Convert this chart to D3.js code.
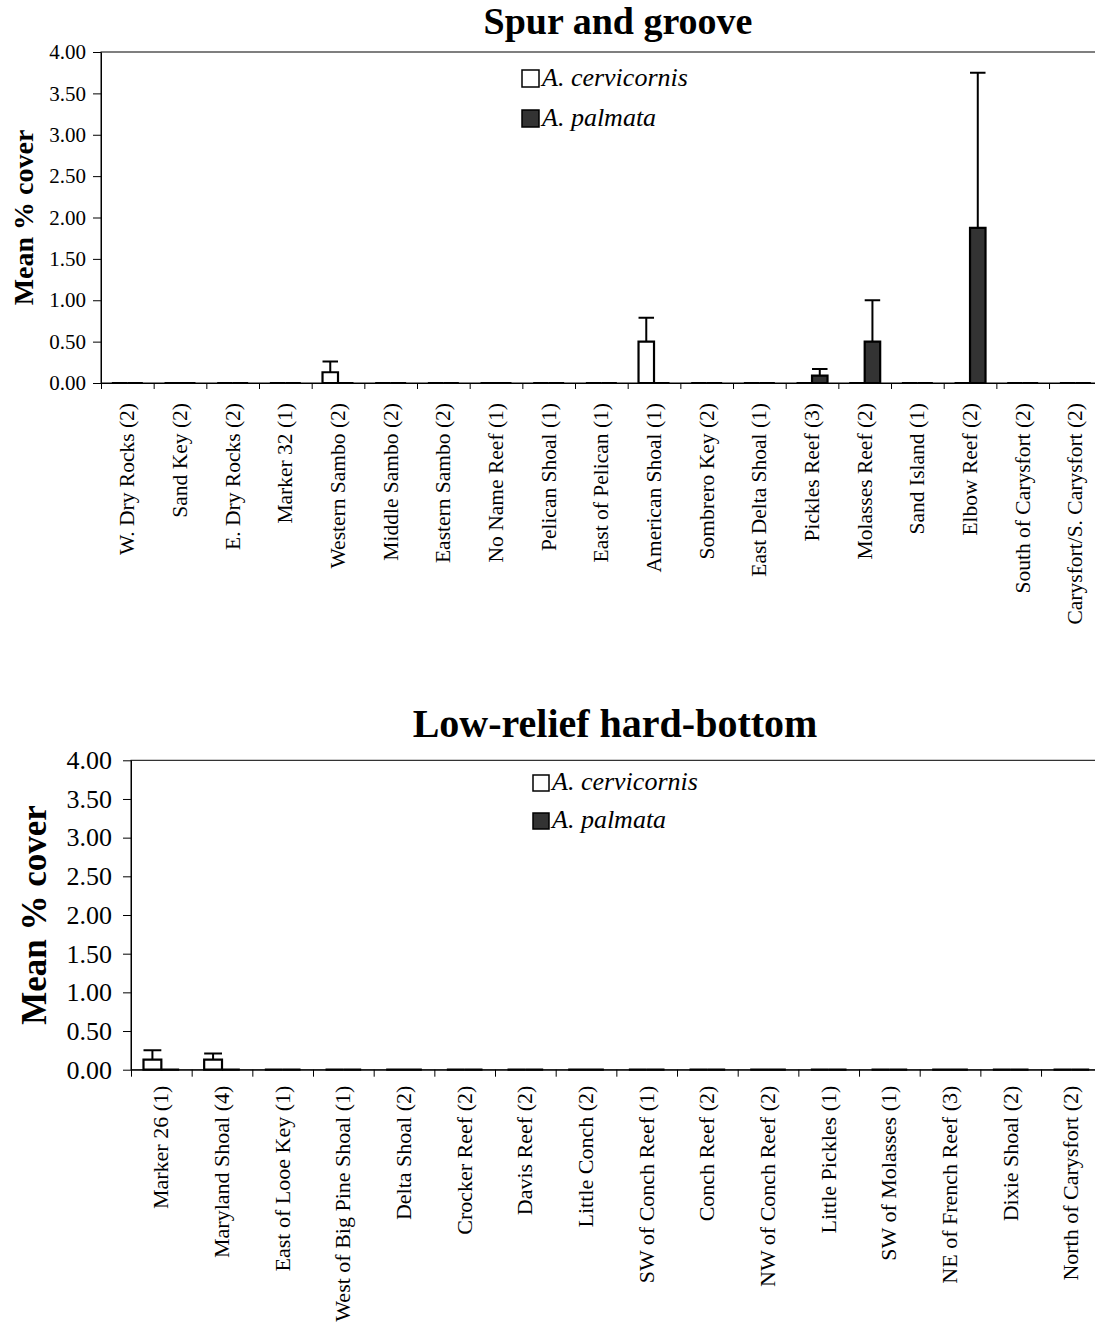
<!DOCTYPE html>
<html>
<head>
<meta charset="utf-8">
<script src="https://cdn.jsdelivr.net/npm/d3@7"></script>
<style>
  body { margin: 0; background: #fff; }
  svg { display: block; font-family: "Liberation Serif", "Times New Roman", serif; }
</style>
</head>
<body>
<svg id="chart" width="1095" height="1326"></svg>
<script>
// Spur and groove sites
const sgSites = ["W. Dry Rocks (2)", "Sand Key (2)", "E. Dry Rocks (2)", "Marker 32 (1)", "Western Sambo (2)",
  "Middle Sambo (2)", "Eastern Sambo (2)", "No Name Reef (1)", "Pelican Shoal (1)", "East of Pelican (1)",
  "American Shoal (1)", "Sombrero Key (2)", "East Delta Shoal (1)", "Pickles Reef (3)", "Molasses Reef (2)",
  "Sand Island (1)", "Elbow Reef (2)", "South of Carysfort (2)", "Carysfort/S. Carysfort (2)"];
const sgCervicornis   = [0, 0, 0, 0, 0.13, 0, 0, 0, 0, 0, 0.50, 0, 0, 0, 0, 0, 0, 0, 0];
const sgCervicornisSE = [0, 0, 0, 0, 0.13, 0, 0, 0, 0, 0, 0.29, 0, 0, 0, 0, 0, 0, 0, 0];
const sgPalmata       = [0, 0, 0, 0, 0, 0, 0, 0, 0, 0, 0, 0, 0, 0.09, 0.50, 0, 1.875, 0, 0];
const sgPalmataSE     = [0, 0, 0, 0, 0, 0, 0, 0, 0, 0, 0, 0, 0, 0.08, 0.50, 0, 1.875, 0, 0];

// Low-relief hard-bottom sites
const lrSites = ["Marker 26 (1)", "Maryland Shoal (4)", "East of Looe Key (1)", "West of Big Pine Shoal (1)",
  "Delta Shoal (2)", "Crocker Reef (2)", "Davis Reef (2)", "Little Conch (2)", "SW of Conch Reef (1)",
  "Conch Reef (2)", "NW of Conch Reef (2)", "Little Pickles (1)", "SW of Molasses (1)", "NE of French Reef (3)",
  "Dixie Shoal (2)", "North of Carysfort (2)"];
const lrCervicornis   = [0.13, 0.13, 0, 0, 0, 0, 0, 0, 0, 0, 0, 0, 0, 0, 0, 0];
const lrCervicornisSE = [0.12, 0.08, 0, 0, 0, 0, 0, 0, 0, 0, 0, 0, 0, 0, 0, 0];
const lrPalmata       = [0, 0, 0, 0, 0, 0, 0, 0, 0, 0, 0, 0, 0, 0, 0, 0];
const lrPalmataSE     = [0, 0, 0, 0, 0, 0, 0, 0, 0, 0, 0, 0, 0, 0, 0, 0];

const seriesNames = ["A. cervicornis", "A. palmata"];
const seriesFill = ["#ffffff", "#333333"];
const yTicks = [0, 0.5, 1, 1.5, 2, 2.5, 3, 3.5, 4];

const svg = d3.select("#chart");

function desenhaPainel(cfg) {
  const g = svg.append("g");
  const x0 = d3.scaleBand().domain(cfg.sites).range([cfg.left, cfg.right]).padding(0);
  const x1 = d3.scaleBand().domain(seriesNames).range([0, x0.bandwidth()]).paddingInner(0).paddingOuter(0.7);
  const y = d3.scaleLinear().domain([0, 4]).range([cfg.bottom, cfg.top]);
  const xt = d3.scaleLinear().domain([0, cfg.sites.length]).range([cfg.left, cfg.right]);

  // titulo
  g.append("text")
    .attr("x", cfg.titleX).attr("y", cfg.titleY)
    .attr("text-anchor", "middle")
    .style("font-size", cfg.titleSize + "px").style("font-weight", "bold")
    .text(cfg.title);

  // borda da area do grafico
  g.append("rect")
    .attr("x", cfg.left).attr("y", cfg.top)
    .attr("width", cfg.right - cfg.left).attr("height", cfg.bottom - cfg.top)
    .attr("fill", "none").attr("stroke", "#000").attr("stroke-width", 1);

  // eixo y
  const eixoY = g.append("g")
    .attr("transform", `translate(${cfg.left},0)`)
    .call(d3.axisLeft(y).tickValues(yTicks).tickFormat(d3.format(".2f"))
      .tickSize(cfg.yTickSize).tickSizeOuter(0).tickPadding(cfg.yTickPad));
  eixoY.selectAll("text").style("font-size", cfg.yFont + "px").attr("fill", "#000")
    .style("font-family", "'Liberation Serif', 'Times New Roman', serif");
  eixoY.selectAll("line, path").attr("stroke", "#000");

  // eixo x (marcas entre categorias)
  const eixoX = g.append("g")
    .attr("transform", `translate(0,${cfg.bottom})`)
    .call(d3.axisBottom(xt).tickValues(d3.range(cfg.sites.length + 1)).tickFormat("")
      .tickSize(cfg.xTickSize).tickSizeOuter(0));
  eixoX.selectAll("line, path").attr("stroke", "#000");

  // rotulos das categorias
  g.selectAll(".rotulo")
    .data(cfg.sites)
    .enter()
    .append("text")
    .attr("class", "rotulo")
    .attr("transform", d => `translate(${x0(d) + x0.bandwidth() / 2 + cfg.labelShift},${cfg.bottom + cfg.labelGap}) rotate(-90)`)
    .attr("text-anchor", "end")
    .style("font-size", cfg.xFont + "px")
    .text(d => d);

  // barras
  const series = [
    { nome: seriesNames[0], vals: cfg.cerv, se: cfg.cervSE, fill: seriesFill[0] },
    { nome: seriesNames[1], vals: cfg.palm, se: cfg.palmSE, fill: seriesFill[1] }
  ];
  const bw = x1.bandwidth();
  series.forEach(s => {
    const dados = cfg.sites.map((site, i) => ({ site, v: s.vals[i], se: s.se[i] }));
    g.selectAll(null)
      .data(dados)
      .enter()
      .append("path")
      .attr("d", d => {
        const xa = x0(d.site) + x1(s.nome);
        const y0 = y(0), y1 = y(d.v);
        return `M${xa},${y0}V${y1}H${xa + bw}V${y0}Z`;
      })
      .attr("fill", s.fill)
      .attr("stroke", "#000")
      .attr("stroke-width", 2.2);

    // barras de erro
    const comErro = dados.filter(d => d.se > 0);
    g.selectAll(null)
      .data(comErro)
      .enter()
      .append("path")
      .attr("d", d => {
        const xc = x0(d.site) + x1(s.nome) + bw / 2;
        const ya = y(d.v), yb = y(d.v + d.se);
        return `M${xc},${ya}V${yb}M${xc - bw / 2},${yb}H${xc + bw / 2}`;
      })
      .attr("fill", "none")
      .attr("stroke", "#000")
      .attr("stroke-width", 2);
  });

  // titulo do eixo y
  g.append("text")
    .attr("transform", `translate(${cfg.yTitleX},${(cfg.top + cfg.bottom) / 2}) rotate(-90)`)
    .attr("text-anchor", "middle")
    .style("font-size", cfg.yTitleSize + "px").style("font-weight", "bold")
    .text("Mean % cover");

  // legenda
  series.forEach((s, i) => {
    const ly = cfg.legendY + i * cfg.legendStep;
    g.append("rect")
      .attr("x", cfg.legendX).attr("y", ly - cfg.legendBox + 1)
      .attr("width", cfg.legendBox).attr("height", cfg.legendBox)
      .attr("fill", s.fill).attr("stroke", "#000").attr("stroke-width", 1.5);
    g.append("text")
      .attr("x", cfg.legendX + cfg.legendBox + 3).attr("y", ly)
      .style("font-size", cfg.legendFont + "px").style("font-style", "italic")
      .text(s.nome);
  });
}

desenhaPainel({
  title: "Spur and groove", titleX: 618, titleY: 34, titleSize: 38,
  sites: sgSites, cerv: sgCervicornis, cervSE: sgCervicornisSE, palm: sgPalmata, palmSE: sgPalmataSE,
  left: 101, right: 1101.7, top: 52, bottom: 383,
  yFont: 21, yTickSize: 8, yTickPad: 7, xTickSize: 6,
  xFont: 21.5, labelGap: 20, labelShift: 7,
  yTitleX: 33, yTitleSize: 28,
  legendX: 522, legendY: 86, legendStep: 40, legendBox: 17, legendFont: 26
});

desenhaPainel({
  title: "Low-relief hard-bottom", titleX: 615, titleY: 737, titleSize: 40,
  sites: lrSites, cerv: lrCervicornis, cervSE: lrCervicornisSE, palm: lrPalmata, palmSE: lrPalmataSE,
  left: 131, right: 1101.7, top: 760.3, bottom: 1069.7,
  yFont: 26, yTickSize: 8, yTickPad: 11, xTickSize: 7,
  xFont: 22, labelGap: 16, labelShift: 7,
  yTitleX: 46, yTitleSize: 35,
  legendX: 533, legendY: 790, legendStep: 38, legendBox: 16, legendFont: 26
});
</script>
</body>
</html>
